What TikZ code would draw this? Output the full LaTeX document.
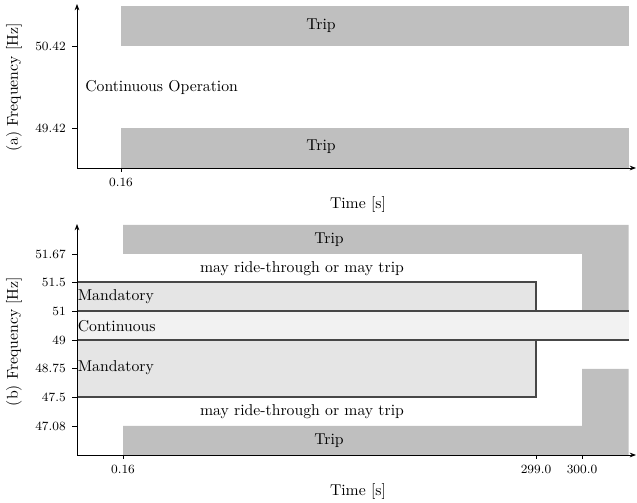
\documentclass[tikz,border=0pt]{standalone}
\usetikzlibrary{arrows.meta}
\definecolor{tripgray}{gray}{0.75}
\definecolor{mandgray}{gray}{0.90}
\definecolor{contgray}{gray}{0.95}
\definecolor{edgegray}{gray}{0.28}
\begin{document}
\begin{tikzpicture}[x=0.636pt,y=-0.636pt,
  axis/.style={line width=0.6pt,-{Stealth[length=4pt,width=3pt]}},
  tickmark/.style={line width=0.4pt},
  ticklbl/.style={font=\footnotesize,inner sep=0pt},
  region/.style={line width=0.9pt,draw=edgegray},
  txt/.style={inner sep=0pt},
  ylab/.style={rotate=90,inner sep=0pt}]
\useasboundingbox (0,0) rectangle (637,503);
% ---------- (a) ----------
\fill[tripgray] (121,6) rectangle (628.5,46);
\fill[tripgray] (121,128) rectangle (628.5,168);
\draw[axis] (77,168) -- (636,168);
\draw[axis] (77,168) -- (77,4);
\draw[tickmark] (72,46) -- (77,46);
\draw[tickmark] (72,128) -- (77,128);
\draw[tickmark] (121,168) -- (121,172);
\node[ticklbl,anchor=east] (a5042) at (66,46) {50.42};
\node[ticklbl,anchor=east] (a4942) at (66,128) {49.42};
\node[ticklbl] (a016) at (121,182.5) {0.16};
\node[txt] (atrip1) at (321,26) {Trip};
\node[txt] (atrip2) at (321,147) {Trip};
\node[txt,anchor=west] (acont) at (85,87) {Continuous Operation};
\node[txt] (atime) at (358,205) {Time [s]};
\node[ylab] (aylab) at (14,87.5) {(a) Frequency [Hz]};
% ---------- (b) ----------
\fill[tripgray] (123,225) -- (628.5,225) -- (628.5,311) -- (582,311) -- (582,254) -- (123,254) -- cycle;
\fill[tripgray] (123,455) -- (628.5,455) -- (628.5,369) -- (582,369) -- (582,426) -- (123,426) -- cycle;
\fill[mandgray] (77,282) rectangle (536,311);
\fill[mandgray] (77,340) rectangle (536,397);
\fill[contgray] (77,311) rectangle (628.5,340);
\draw[region] (77,282) -- (536,282) -- (536,311);
\draw[region] (77,311) -- (628.5,311);
\draw[region] (77,340) -- (628.5,340);
\draw[region] (536,340) -- (536,397) -- (77,397);
\draw[axis] (77,455) -- (636,455);
\draw[axis] (77,455) -- (77,224);
\foreach \yy/\lab/\nm in {254/51.67/b1, 282/51.5/b2, 311/51/b3, 340/49/b4, 368/48.75/b5, 397/47.5/b6, 426/47.08/b7}{
  \draw[tickmark] (72,\yy) -- (77,\yy);
  \node[ticklbl,anchor=east] (\nm) at (66,\yy) {\lab};
}
\foreach \xx/\lab/\nm in {123/0.16/bx1, 536/299.0/bx2, 582/300.0/bx3}{
  \draw[tickmark] (\xx,455) -- (\xx,459);
  \node[ticklbl] (\nm) at (\xx,469.5) {\lab};
}
\node[txt] (btrip1) at (329,239.5) {Trip};
\node[txt] (btrip2) at (329,440.5) {Trip};
\node[txt] (bride1) at (302,268.5) {may ride-through or may trip};
\node[txt] (bride2) at (302,411.5) {may ride-through or may trip};
\node[txt,anchor=west] (bmand1) at (77.5,296.5) {Mandatory};
\node[txt,anchor=west] (bcont) at (77.5,326) {Continuous};
\node[txt,anchor=west] (bmand2) at (77.5,368) {Mandatory};
\node[txt] (btime) at (358,492) {Time [s]};
\node[ylab] (bylab) at (14,341.5) {(b) Frequency [Hz]};
\end{tikzpicture}
\end{document}
